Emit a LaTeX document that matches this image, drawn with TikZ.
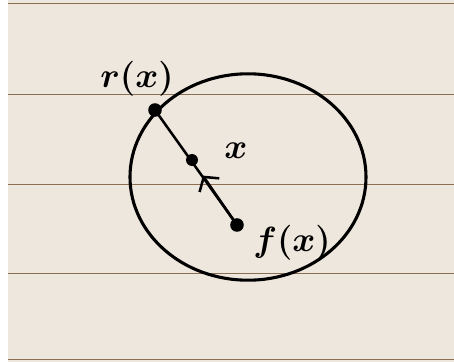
\documentclass[tikz,border=0pt]{standalone}
\usetikzlibrary{arrows.meta,calc}
\definecolor{paper}{RGB}{238,231,221}
\definecolor{ruling}{RGB}{140,110,80}

\begin{document}
\begin{tikzpicture}[x=0.25mm,y=-0.25mm,>=Stealth,
  dot/.style={circle,fill=black,inner sep=0pt,minimum size=3.4mm},
  lbl/.style={font=\fontsize{28}{32}\selectfont\boldmath}]
  \useasboundingbox (0,0) rectangle (454,362);
  \fill[white] (0,0) rectangle (454,362);
  \fill[paper] (8,0) rectangle (454,362);
  \foreach \y in {3,94,184,273,359}
    \draw[ruling,line width=0.6pt] (8,\y) -- (454,\y);

  \draw[line width=2.2pt] (248,177) ellipse [x radius=29.5mm,y radius=25.8mm];
  \node[dot] (rx) at (155,110) {};
  \node[dot,minimum size=3mm] (xp) at (192,160) {};
  \node[dot] (fx) at (237,225) {};
  \node[lbl] (rxlabel) at (137,79) {$r(x)$};
  \node[lbl] (xlabel) at (236,151) {$x$};
  \node[lbl] (fxlabel) at (292,243) {$f(x)$};

  \draw[line width=1.8pt] (fx.center) -- (rx.center);
  \draw[-{Straight Barb[length=2.5mm,width=6mm]},line width=1.8pt]
    (fx.center) -- ($(fx)!0.76!(xp)$);
\end{tikzpicture}
\end{document}
